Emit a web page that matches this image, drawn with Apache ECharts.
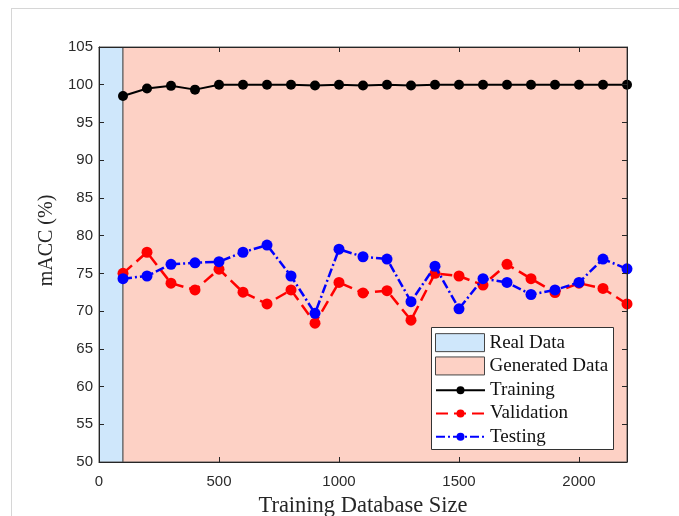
<!DOCTYPE html>
<html>
<head>
<meta charset="utf-8">
<script src="https://cdn.jsdelivr.net/npm/echarts@6/dist/echarts.min.js"></script>
<style>
  html, body { margin: 0; padding: 0; background: #ffffff; }
  #chart { width: 679px; height: 516px; }
</style>
</head>
<body>
<div id="chart"></div>
<script>
// Training database sizes (x positions of every sample)
const sizes = [100, 200, 300, 400, 500, 600, 700, 800, 900, 1000, 1100,
               1200, 1300, 1400, 1500, 1600, 1700, 1800, 1900, 2000, 2100, 2200];

// mACC (%) per database size
const training = [98.5, 99.5, 99.85, 99.35, 100, 100, 100, 100, 99.9, 100, 99.9,
                  100, 99.9, 100, 100, 100, 100, 100, 100, 100, 100, 100];
const validation = [75.0, 77.8, 73.7, 72.8, 75.55, 72.5, 70.95, 72.8, 68.4, 73.8, 72.4,
                    72.7, 68.8, 75.0, 74.65, 73.45, 76.2, 74.3, 72.45, 73.7, 73.0, 70.95];
const testing = [74.3, 74.65, 76.2, 76.4, 76.55, 77.8, 78.75, 74.65, 69.7, 78.2, 77.2,
                 76.9, 71.25, 75.95, 70.3, 74.3, 73.8, 72.2, 72.8, 73.8, 76.9, 75.6];

// Data-source regions along the x axis: real data up to 100, generated beyond
const realRange = [0, 100];
const generatedRange = [100, 2200];

const seriesNames = ['Real Data', 'Generated Data', 'Training', 'Validation', 'Testing'];

const pair = (ys) => sizes.map((x, i) => [x, ys[i]]);

const axisColor = '#262626';
const tickFont = { fontFamily: 'Liberation Sans', fontSize: 15, color: '#2b2b2b' };
const plain = (v) => String(v);

const chart = echarts.init(document.getElementById('chart'), null, { renderer: 'canvas' });

const commonX = {
  type: 'value', min: 0, max: 2200, interval: 500, z: 10,
  axisLine: { show: true, onZero: false, lineStyle: { color: axisColor, width: 1 } },
  axisTick: { show: true, inside: true, length: 5, lineStyle: { color: axisColor } },
  splitLine: { show: false }
};
const commonY = {
  type: 'value', min: 50, max: 105, interval: 5, z: 10,
  axisLine: { show: true, onZero: false, lineStyle: { color: axisColor, width: 1 } },
  axisTick: { show: true, inside: true, length: 5, lineStyle: { color: axisColor } },
  splitLine: { show: false }
};

const option = {
  animation: false,
  backgroundColor: '#ffffff',
  grid: { left: 99, right: 52, top: 47, bottom: 54, containLabel: false, outerBoundsMode: 'none' },
  xAxis: [
    Object.assign({}, commonX, {
      position: 'bottom',
      name: 'Training Database Size', nameLocation: 'middle', nameGap: 33,
      nameTextStyle: { fontFamily: 'Liberation Serif', fontSize: 22.5, color: axisColor },
      axisLabel: Object.assign({ margin: 12, showMaxLabel: false, formatter: plain }, tickFont)
    }),
    Object.assign({}, commonX, { position: 'top', axisLabel: { show: false } })
  ],
  yAxis: [
    Object.assign({}, commonY, {
      position: 'left',
      name: 'mACC (%)', nameLocation: 'middle', nameGap: 31,
      nameTextStyle: { fontFamily: 'Liberation Serif', fontSize: 20, color: axisColor,
                       padding: [0, 0, 0, 28] },
      axisLabel: Object.assign({ margin: 6, formatter: plain }, tickFont)
    }),
    Object.assign({}, commonY, { position: 'right', axisLabel: { show: false } })
  ],
  legend: [
    {
      data: [
        { name: seriesNames[0], icon: 'rect',
          itemStyle: { color: '#cfe7fb', borderColor: '#444', borderWidth: 1 } },
        { name: seriesNames[1], icon: 'rect',
          itemStyle: { color: '#fdd1c5', borderColor: '#444', borderWidth: 1 } }
      ],
      orient: 'vertical', left: 435, top: 331, padding: 0, itemGap: 0,
      itemWidth: 49, itemHeight: 18, selectedMode: false, z: 20,
      textStyle: { fontFamily: 'Liberation Serif', fontSize: 19, color: '#111', lineHeight: 23.3 }
    },
    {
      data: seriesNames.slice(2),
      orient: 'vertical', left: 435, top: 378.5, padding: 0, itemGap: 0,
      itemWidth: 49, itemHeight: 10, selectedMode: false, z: 20,
      textStyle: { fontFamily: 'Liberation Serif', fontSize: 19, color: '#111', lineHeight: 23.3 }
    }
  ],
  graphic: [
    // figure frame
    { type: 'line', shape: { x1: 11, y1: 8.5, x2: 679, y2: 8.5 },
      style: { stroke: '#d6d6d6', lineWidth: 1 }, z: 0 },
    { type: 'line', shape: { x1: 11.5, y1: 8, x2: 11.5, y2: 516 },
      style: { stroke: '#d6d6d6', lineWidth: 1 }, z: 0 },
    // legend box
    { type: 'rect', shape: { x: 431.5, y: 327.5, width: 182, height: 122 },
      style: { fill: '#ffffff', stroke: '#333333', lineWidth: 1 }, z: 15 }
  ],
  series: [
    {
      name: seriesNames[0], type: 'line', data: [], z: 1,
      itemStyle: { color: '#cfe7fb' },
      markArea: {
        silent: true,
        itemStyle: { color: '#cfe7fb', borderColor: '#555', borderWidth: 1 },
        data: [[{ xAxis: realRange[0] }, { xAxis: realRange[1] }]]
      }
    },
    {
      name: seriesNames[1], type: 'line', data: [], z: 1,
      itemStyle: { color: '#fdd1c5' },
      markArea: {
        silent: true,
        itemStyle: { color: '#fdd1c5', borderColor: '#555', borderWidth: 1 },
        data: [[{ xAxis: generatedRange[0] }, { xAxis: generatedRange[1] }]]
      }
    },
    {
      name: seriesNames[2], type: 'line', data: pair(training), z: 3,
      symbol: 'circle', symbolSize: 10, showAllSymbol: true,
      itemStyle: { color: '#000000' },
      lineStyle: { color: '#000000', width: 2 }
    },
    {
      name: seriesNames[3], type: 'line', data: pair(validation), z: 4,
      symbol: 'circle', symbolSize: 11, showAllSymbol: true,
      itemStyle: { color: '#ff0000' },
      lineStyle: { color: '#ff0000', width: 2.5, type: [12, 6] }
    },
    {
      name: seriesNames[4], type: 'line', data: pair(testing), z: 5,
      symbol: 'circle', symbolSize: 11, showAllSymbol: true,
      itemStyle: { color: '#0000ff' },
      lineStyle: { color: '#0000ff', width: 2.5, type: [9, 3, 2, 3] }
    }
  ]
};

chart.setOption(option);
</script>
</body>
</html>
